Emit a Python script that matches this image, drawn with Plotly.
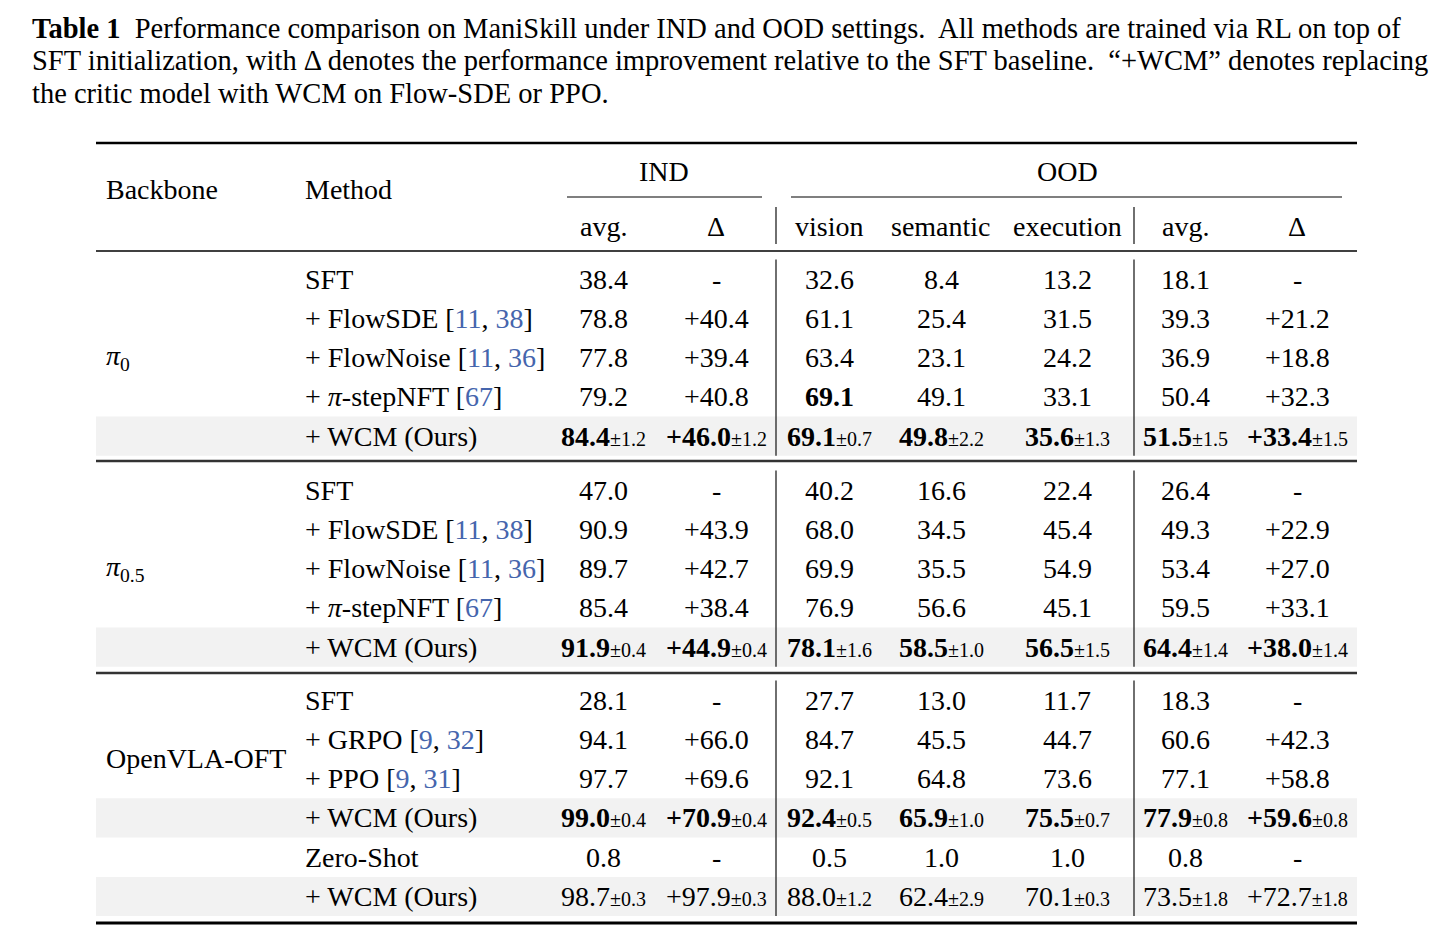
import plotly.graph_objects as go

# caption
caption_lines = [
    "<b>Table 1</b>\u00a0\u00a0Performance comparison on ManiSkill under IND and OOD settings.\u00a0 All methods are trained via RL on top of",
    "SFT initialization, with \u0394 denotes the performance improvement relative to the SFT baseline.\u00a0 \u201c+WCM\u201d denotes replacing",
    "the critic model with WCM on Flow-SDE or PPO.",
]

# table data
backbones = ["<i>\u03c0</i><sub>0</sub>", "<i>\u03c0</i><sub>0.5</sub>", "OpenVLA-OFT"]
group_sizes = [5, 5, 6]
backbone_span = [5, 5, 4]

method_names = [
    "SFT", "+ FlowSDE", "+ FlowNoise", "+ <i>\u03c0</i>-stepNFT", "+ WCM (Ours)",
    "SFT", "+ FlowSDE", "+ FlowNoise", "+ <i>\u03c0</i>-stepNFT", "+ WCM (Ours)",
    "SFT", "+ GRPO", "+ PPO", "+ WCM (Ours)", "Zero-Shot", "+ WCM (Ours)",
]
method_refs = [
    None, [11, 38], [11, 36], [67], None,
    None, [11, 38], [11, 36], [67], None,
    None, [9, 32], [9, 31], None, None, None,
]

ind_avg = [38.4, 78.8, 77.8, 79.2, 84.4, 47.0, 90.9, 89.7, 85.4, 91.9, 28.1, 94.1, 97.7, 99.0, 0.8, 98.7]
ind_delta = [None, 40.4, 39.4, 40.8, 46.0, None, 43.9, 42.7, 38.4, 44.9, None, 66.0, 69.6, 70.9, None, 97.9]
ind_std = [None, None, None, None, 1.2, None, None, None, None, 0.4, None, None, None, 0.4, None, 0.3]
vision = [32.6, 61.1, 63.4, 69.1, 69.1, 40.2, 68.0, 69.9, 76.9, 78.1, 27.7, 84.7, 92.1, 92.4, 0.5, 88.0]
vision_std = [None, None, None, None, 0.7, None, None, None, None, 1.6, None, None, None, 0.5, None, 1.2]
semantic = [8.4, 25.4, 23.1, 49.1, 49.8, 16.6, 34.5, 35.5, 56.6, 58.5, 13.0, 45.5, 64.8, 65.9, 1.0, 62.4]
semantic_std = [None, None, None, None, 2.2, None, None, None, None, 1.0, None, None, None, 1.0, None, 2.9]
execution = [13.2, 31.5, 24.2, 33.1, 35.6, 22.4, 45.4, 54.9, 45.1, 56.5, 11.7, 44.7, 73.6, 75.5, 1.0, 70.1]
execution_std = [None, None, None, None, 1.3, None, None, None, None, 1.5, None, None, None, 0.7, None, 0.3]
ood_avg = [18.1, 39.3, 36.9, 50.4, 51.5, 26.4, 49.3, 53.4, 59.5, 64.4, 18.3, 60.6, 77.1, 77.9, 0.8, 73.5]
ood_delta = [None, 21.2, 18.8, 32.3, 33.4, None, 22.9, 27.0, 33.1, 38.0, None, 42.3, 58.8, 59.6, None, 72.7]
ood_std = [None, None, None, None, 1.5, None, None, None, None, 1.4, None, None, None, 0.8, None, 1.8]

bold_rows = [4, 9, 13]
bold_extra = [(3, 2)]  # (row, column) -> pi-stepNFT vision
shaded_rows = [4, 9, 13, 15]

sub_headers = ["avg.", "\u0394", "vision", "semantic", "execution", "avg.", "\u0394"]

# layout geometry (pixels of the page)
FONT = "Liberation Serif"
FS = 28
CAP_FS = 28.5
SMALL = 20
REF_BLUE = "#4565ad"
SHADE = "#f2f2f2"
X_LEFT, X_RIGHT = 96, 1357
X_BACKBONE, X_METHOD = 104, 303
COL_X = [603, 716, 829, 941, 1067, 1185, 1297]
VLINES = [776, 1134]
GROUP_START = [279, 490, 700]
ROW_STEP = 39.3
HALF = 19.6
BODY_MARGIN = 8  # browser page margin around the plot div

columns = [
    (ind_avg, ind_std, False),
    (ind_delta, ind_std, True),
    (vision, vision_std, False),
    (semantic, semantic_std, False),
    (execution, execution_std, False),
    (ood_avg, ood_std, False),
    (ood_delta, ood_std, True),
]

row_y = []
for g, n in enumerate(group_sizes):
    for i in range(n):
        row_y.append(GROUP_START[g] + i * ROW_STEP)

fig = go.Figure()
shapes = []
annotations = []


def add_text(x, y, text, anchor="center", size=FS):
    annotations.append(dict(
        x=x, y=y, xref="x", yref="y", text=text, showarrow=False,
        xanchor=anchor, yanchor="middle", font=dict(family=FONT, size=size, color="black"),
    ))


def hline(y, x0, x1, w, color="black"):
    shapes.append(dict(type="line", xref="x", yref="y", x0=x0, x1=x1, y0=y, y1=y,
                       line=dict(color=color, width=w)))


def vline(x, y0, y1, w=1.3, color="#222222"):
    shapes.append(dict(type="line", xref="x", yref="y", x0=x, x1=x, y0=y0, y1=y1,
                       line=dict(color=color, width=w)))


def fmt(value, std, signed, bold):
    if value is None:
        return "-"
    s = ("+" if signed else "") + "%.1f" % value
    if bold:
        s = "<b>" + s + "</b>"
    if std is not None:
        s += "<span style='font-size:%dpx'>\u00b1%.1f</span>" % (SMALL, std)
    return s


# caption
for k, line in enumerate(caption_lines):
    add_text(30, 28 + k * 32.5, line, anchor="left", size=CAP_FS)

# shaded rows
for r in shaded_rows:
    shapes.append(dict(type="rect", xref="x", yref="y", x0=X_LEFT, x1=X_RIGHT,
                       y0=row_y[r] - HALF, y1=row_y[r] + HALF,
                       fillcolor=SHADE, line=dict(width=0), layer="below"))

# rules
hline(143, X_LEFT, X_RIGHT, 2.5)
hline(197, 567, 762, 1.2)
hline(197, 791, 1342, 1.2)
hline(251, X_LEFT, X_RIGHT, 1.5)
hline(461, X_LEFT, X_RIGHT, 2.5, "#333333")
hline(673, X_LEFT, X_RIGHT, 2.5, "#333333")
hline(923, X_LEFT, X_RIGHT, 3.2)

# header
add_text(X_BACKBONE, 189, "Backbone", anchor="left")
add_text(X_METHOD, 189, "Method", anchor="left")
add_text(664, 171, "IND")
add_text(1067, 171, "OOD")
for x, h in zip(COL_X, sub_headers):
    add_text(x, 226, h)
for x in VLINES:
    vline(x, 207, 244)

# group vertical separators and backbone labels
for g, n in enumerate(group_sizes):
    first = sum(group_sizes[:g])
    top = row_y[first] - HALF
    bottom = row_y[first + n - 1] + HALF
    for x in VLINES:
        vline(x, top, bottom)
    span = backbone_span[g]
    mid = (row_y[first] + row_y[first + span - 1]) / 2
    add_text(X_BACKBONE, mid, backbones[g], anchor="left")

# body
for r, y in enumerate(row_y):
    name = method_names[r]
    refs = method_refs[r]
    if refs:
        name += " [" + ", ".join("<span style='color:%s'>%d</span>" % (REF_BLUE, c) for c in refs) + "]"
    add_text(X_METHOD, y, name, anchor="left")
    for c, (vals, stds, signed) in enumerate(columns):
        bold = r in bold_rows or (r, c) in bold_extra
        add_text(COL_X[c], y, fmt(vals[r], stds[r], signed, bold))

fig.update_layout(
    width=1447, height=934,
    margin=dict(l=0, r=0, t=0, b=0),
    paper_bgcolor="white", plot_bgcolor="white",
    xaxis=dict(range=[BODY_MARGIN, 1447 + BODY_MARGIN], visible=False, fixedrange=True),
    yaxis=dict(range=[934 + BODY_MARGIN, BODY_MARGIN], visible=False, fixedrange=True),
    shapes=shapes, annotations=annotations, showlegend=False,
)

fig.write_html("out.html")
